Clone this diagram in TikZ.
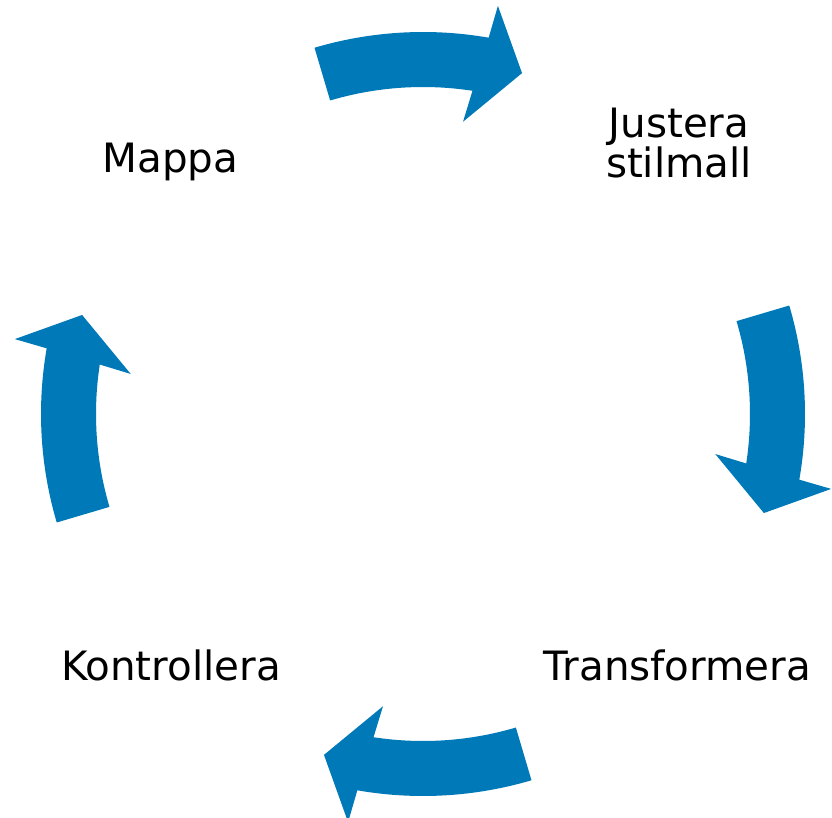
\documentclass[tikz,border=0pt]{standalone}
\usepackage{fontspec}
\setmainfont{DejaVu Sans}
\usepackage{tikz}
\definecolor{arrowblue}{RGB}{0,121,185}
\usetikzlibrary{
	positioning
}
\tikzset{
	cyclearrow/.style={fill=arrowblue, draw=none},
	steplabel/.style={font=\fontsize{23pt}{20pt}\selectfont, align=center, inner sep=0pt, anchor=base}
}

\begin{document}
\begin{tikzpicture}
	\useasboundingbox (-8.46,-8.06) rectangle (8.18,8.28);
	% curved block arrows, clockwise
	\foreach \m in {90,0,-90,-180} {
		\fill[cyclearrow] (\m+16.5:7.64) arc[start angle=\m+16.5, end angle=\m-9.9, radius=7.64]
			-- (\m-10.4:8.3) -- (\m-16.2:7.1) -- (\m-7.8:5.9) -- (\m-8.7:6.54)
			arc[start angle=\m-8.7, end angle=\m+16.5, radius=6.54] -- cycle;
	}
	% labels
	\node[steplabel] (mappa) at (-5.05,4.82) {Mappa};
	\node[steplabel] (justera) at (5.12,4.72) {Justera\\stilmall};
	\node[steplabel] (transformera) at (5.09,-5.32) {Transformera};
	\node[steplabel] (kontrollera) at (-5.04,-5.32) {Kontrollera};
\end{tikzpicture}
\end{document}
